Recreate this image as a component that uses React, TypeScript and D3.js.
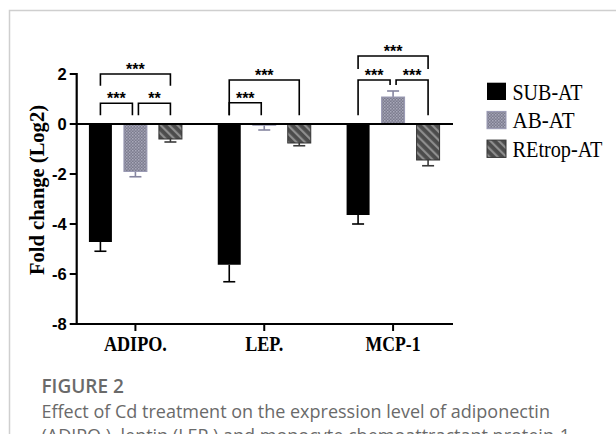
import React from 'react';
import * as d3 from 'd3';

// data
const categories = ['ADIPO.', 'LEP.', 'MCP-1'];
const groups = ['SUB-AT', 'AB-AT', 'REtrop-AT'];
const subAt = [-4.72, -5.63, -3.64];
const abAt = [-1.9, -0.05, 1.08];
const retropAt = [-0.6, -0.76, -1.44];
const subAtErr = [0.37, 0.68, 0.36];
const abAtErr = [0.21, 0.19, 0.24];
const retropAtErr = [0.12, 0.11, 0.23];
const yTicks = [2, 0, -2, -4, -6, -8];

// significance brackets (top / leg ends in y units)
const brackets = [
  { cat: 'ADIPO.', from: 'SUB-AT', to: 'REtrop-AT', top: 2.0, left: 1.53, right: 1.53, label: '***' },
  { cat: 'ADIPO.', from: 'SUB-AT', to: 'AB-AT', top: 0.83, left: 0.35, right: 0.35, label: '***' },
  { cat: 'ADIPO.', from: 'AB-AT', to: 'REtrop-AT', top: 0.83, left: 0.35, right: 0.35, label: '**' },
  { cat: 'LEP.', from: 'SUB-AT', to: 'REtrop-AT', top: 1.76, left: 0.35, right: 0.35, label: '***' },
  { cat: 'LEP.', from: 'SUB-AT', to: 'AB-AT', top: 0.85, left: 0.35, right: 0.35, label: '***' },
  { cat: 'MCP-1', from: 'SUB-AT', to: 'REtrop-AT', top: 2.72, left: 2.2, right: 2.2, label: '***' },
  { cat: 'MCP-1', from: 'SUB-AT', to: 'AB-AT', top: 1.76, left: 0.35, right: 1.56, label: '***' },
  { cat: 'MCP-1', from: 'AB-AT', to: 'REtrop-AT', top: 1.76, left: 1.56, right: 0.35, label: '***' },
];

const values = [subAt, abAt, retropAt];
const errors = [subAtErr, abAtErr, retropAtErr];
const fills = ['#000', 'url(#abDots)', 'url(#reStripes)'];
const strokes = ['#000', '#9a9ab4', '#333'];
const errColors = ['#000', '#8686a0', '#3a3a3a'];
const legendWidths = [70, 62, 90];
const catWidths = [63, 38, 55];

const serif = '"Liberation Serif", "Times New Roman", serif';
const sans = '"Liberation Sans", Arial, sans-serif';
const capFont = '"Open Sans", sans-serif';

export default function App() {
  const y = d3.scaleLinear().domain([-8, 2]).range([324, 74]);
  const x = d3.scaleBand().domain(categories).range([71, 457.5]);
  const inner = d3.scaleBand().domain(groups).range([-52.5, 52.5]).paddingInner(0.343).paddingOuter(0.1715);
  const axisX0 = 76.7;
  const axisX1 = 453;
  const center = (c: string) => (x(c) as number) + x.bandwidth() / 2;
  const barMid = (c: string, g: string) => center(c) + (inner(g) as number) + inner.bandwidth() / 2;

  return (
    <svg width={616} height={434} style={{ position: 'absolute', left: 0, top: 0, background: '#fff' }}>
      <defs>
        <pattern id="abDots" width={3} height={3} patternUnits="userSpaceOnUse">
          <rect width={3} height={3} fill="#7c7c8e" />
          <rect width={1.5} height={1.5} fill="#a9a9bb" />
          <rect x={1.5} y={1.5} width={1.5} height={1.5} fill="#9a9aac" />
        </pattern>
        <pattern id="reStripes" width={6} height={6} patternUnits="userSpaceOnUse" patternTransform="rotate(-45)">
          <rect width={6} height={6} fill="#4c4c4c" />
          <rect width={2.2} height={6} fill="#8e8e8e" />
        </pattern>
      </defs>

      {/* frame */}
      <path d="M9.5,434V10.5H616" fill="none" stroke="#cfcfcf" strokeWidth={1.5} />

      {/* bars */}
      {categories.map((c, ci) =>
        groups.map((g, gi) => {
          const v = values[gi][ci];
          const e = errors[gi][ci];
          const x0 = center(c) + (inner(g) as number);
          const top = Math.min(y(v), y(0));
          const h = Math.abs(y(v) - y(0));
          const m = barMid(c, g);
          const ye = y(v + (v < 0 ? -e : e));
          return (
            <g key={c + g}>
              <line x1={m} x2={m} y1={y(v)} y2={ye} stroke={errColors[gi]} strokeWidth={1.6} />
              <line x1={m - 6} x2={m + 6} y1={ye} y2={ye} stroke={errColors[gi]} strokeWidth={1.6} />
              <rect x={x0} y={top} width={inner.bandwidth()} height={h} fill={fills[gi]}
                stroke={gi === 0 ? 'none' : strokes[gi]} strokeWidth={1} />
            </g>
          );
        })
      )}

      {/* zero line */}
      <line x1={axisX0} x2={axisX1} y1={y(0)} y2={y(0)} stroke="#000" strokeWidth={2.2} />

      {/* y axis */}
      <line x1={axisX0} x2={axisX0} y1={y(2) - 1} y2={y(-8) + 1} stroke="#000" strokeWidth={2.2} />
      {yTicks.map((t) => (
        <g key={t}>
          <line x1={axisX0 - 7} x2={axisX0} y1={y(t)} y2={y(t)} stroke="#000" strokeWidth={2} />
          <text x={axisX0 - 10} y={y(t)} dy="0.36em" textAnchor="end" fontFamily={sans}
            fontWeight="bold" fontSize={16.5}>{t < 0 ? '-' + Math.abs(t) : t}</text>
        </g>
      ))}
      <text transform={`translate(44, 190) rotate(-90)`} textAnchor="middle" fontFamily={serif}
        fontWeight="bold" fontSize={20.5} textLength={170} lengthAdjust="spacingAndGlyphs">Fold change (Log2)</text>

      {/* x axis */}
      <line x1={axisX0 - 1} x2={axisX1} y1={y(-8)} y2={y(-8)} stroke="#000" strokeWidth={2.2} />
      {categories.map((c, i) => (
        <g key={c}>
          <line x1={center(c)} x2={center(c)} y1={y(-8)} y2={y(-8) + 7} stroke="#000" strokeWidth={2} />
          <text x={center(c)} y={351} textAnchor="middle" fontFamily={serif} fontWeight="bold"
            fontSize={20} textLength={catWidths[i]} lengthAdjust="spacingAndGlyphs">{c}</text>
        </g>
      ))}

      {/* significance brackets */}
      {brackets.map((b, i) => {
        const mid = 'AB-AT';
        const xl = barMid(b.cat, b.from) + (b.from === mid ? 3 : 0);
        const xr = barMid(b.cat, b.to) + (b.to === mid ? -3 : 0);
        return (
          <g key={i}>
            <path d={`M${xl},${y(b.left)}V${y(b.top)}H${xr}V${y(b.right)}`} fill="none" stroke="#000" strokeWidth={1.6} />
            <text x={(xl + xr) / 2} y={y(b.top) + 1} textAnchor="middle" fontFamily={sans}
              fontWeight="bold" fontSize={16}>{b.label}</text>
          </g>
        );
      })}

      {/* legend */}
      {groups.map((g, i) => {
        const ly = 82.7 + i * 28.7;
        return (
          <g key={g}>
            <rect x={487} y={ly} width={19} height={17.3} fill={fills[i]} stroke={i === 0 ? 'none' : strokes[i]} strokeWidth={1} />
            <text x={512.5} y={ly + 16.8} fontFamily={serif} fontSize={23} textLength={legendWidths[i]}
              lengthAdjust="spacingAndGlyphs">{g}</text>
          </g>
        );
      })}

      {/* caption */}
      <text x={41.5} y={393} fontFamily={capFont} fontWeight={600} fontSize={19} fill="#6a6a6a">FIGURE 2</text>
      <text x={41.5} y={418} fontFamily={capFont} fontSize={18} fill="#6a6a6a">Effect of Cd treatment on the expression level of adiponectin</text>
      <text x={41.5} y={442} fontFamily={capFont} fontSize={18} fill="#6a6a6a">(ADIPO.), leptin (LEP.) and monocyte chemoattractant protein-1</text>
    </svg>
  );
}
